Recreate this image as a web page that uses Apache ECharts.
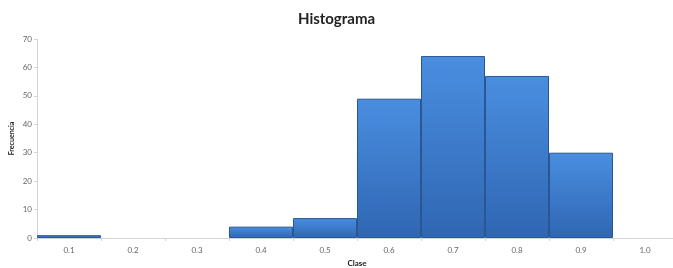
<!DOCTYPE html>
<html><head><meta charset="utf-8">
<script src="https://cdn.jsdelivr.net/npm/echarts@6/dist/echarts.min.js"></script>
<style>html,body{margin:0;padding:0;background:#fff}#c{width:673px;height:268px}</style>
</head><body><div id="c"></div>
<script>
var categories = ['0.1','0.2','0.3','0.4','0.5','0.6','0.7','0.8','0.9','1.0'];
var frecuencia = [1, 0, 0, 4, 7, 49, 64, 57, 30, 0];
var yTicks = [0, 10, 20, 30, 40, 50, 60, 70];
var titleText = 'Histograma';
var xName = 'Clase';
var yName = 'Frecuencia';

var chart = echarts.init(document.getElementById('c'), null, {renderer: 'canvas'});
var font = 'Lato, "Open Sans", sans-serif';
var barData = frecuencia.map(function (v) {
  return {value: v, itemStyle: {borderWidth: v > 0 ? 1 : 0}};
});
chart.setOption({
  animation: false,
  title: {text: titleText, left: 'center', top: 7,
    textStyle: {fontFamily: font, fontSize: 15, fontWeight: 'bold', color: '#222'}},
  grid: {left: 37, top: 39, width: 640, height: 199, outerBoundsMode: 'none', containLabel: false},
  xAxis: {
    type: 'category', data: categories,
    name: xName, nameLocation: 'middle', nameGap: 21, nameMoveOverlap: false,
    nameTextStyle: {fontFamily: font, fontSize: 8, fontWeight: 'bold', color: '#222'},
    axisLine: {lineStyle: {color: '#d4d4d4', width: 1}},
    axisTick: {show: true, alignWithLabel: false, length: 3, lineStyle: {color: '#d4d4d4'}},
    axisLabel: {fontFamily: font, fontSize: 8, color: '#666', margin: 8}
  },
  yAxis: {
    type: 'value', min: 0, max: 70, interval: 10,
    name: yName, nameLocation: 'middle', nameGap: 22, nameRotate: 90, nameMoveOverlap: false,
    nameTextStyle: {fontFamily: font, fontSize: 7, fontWeight: 'bold', color: '#222'},
    axisLine: {show: true, lineStyle: {color: '#d4d4d4', width: 1}},
    axisTick: {show: true, length: 3, lineStyle: {color: '#d4d4d4'}},
    splitLine: {show: false},
    axisLabel: {fontFamily: font, fontSize: 8, color: '#666', margin: 5,
      formatter: function (v) { return yTicks.indexOf(v) >= 0 ? String(v) : ''; }}
  },
  series: [{
    type: 'bar', data: barData, barWidth: '100%', barCategoryGap: 0,
    itemStyle: {
      color: new echarts.graphic.LinearGradient(0, 0, 0, 1, [
        {offset: 0, color: '#4a8ee0'},
        {offset: 1, color: '#2f66b2'}
      ]),
      borderColor: '#2a5793', borderWidth: 1
    }
  }]
});
</script></body></html>
